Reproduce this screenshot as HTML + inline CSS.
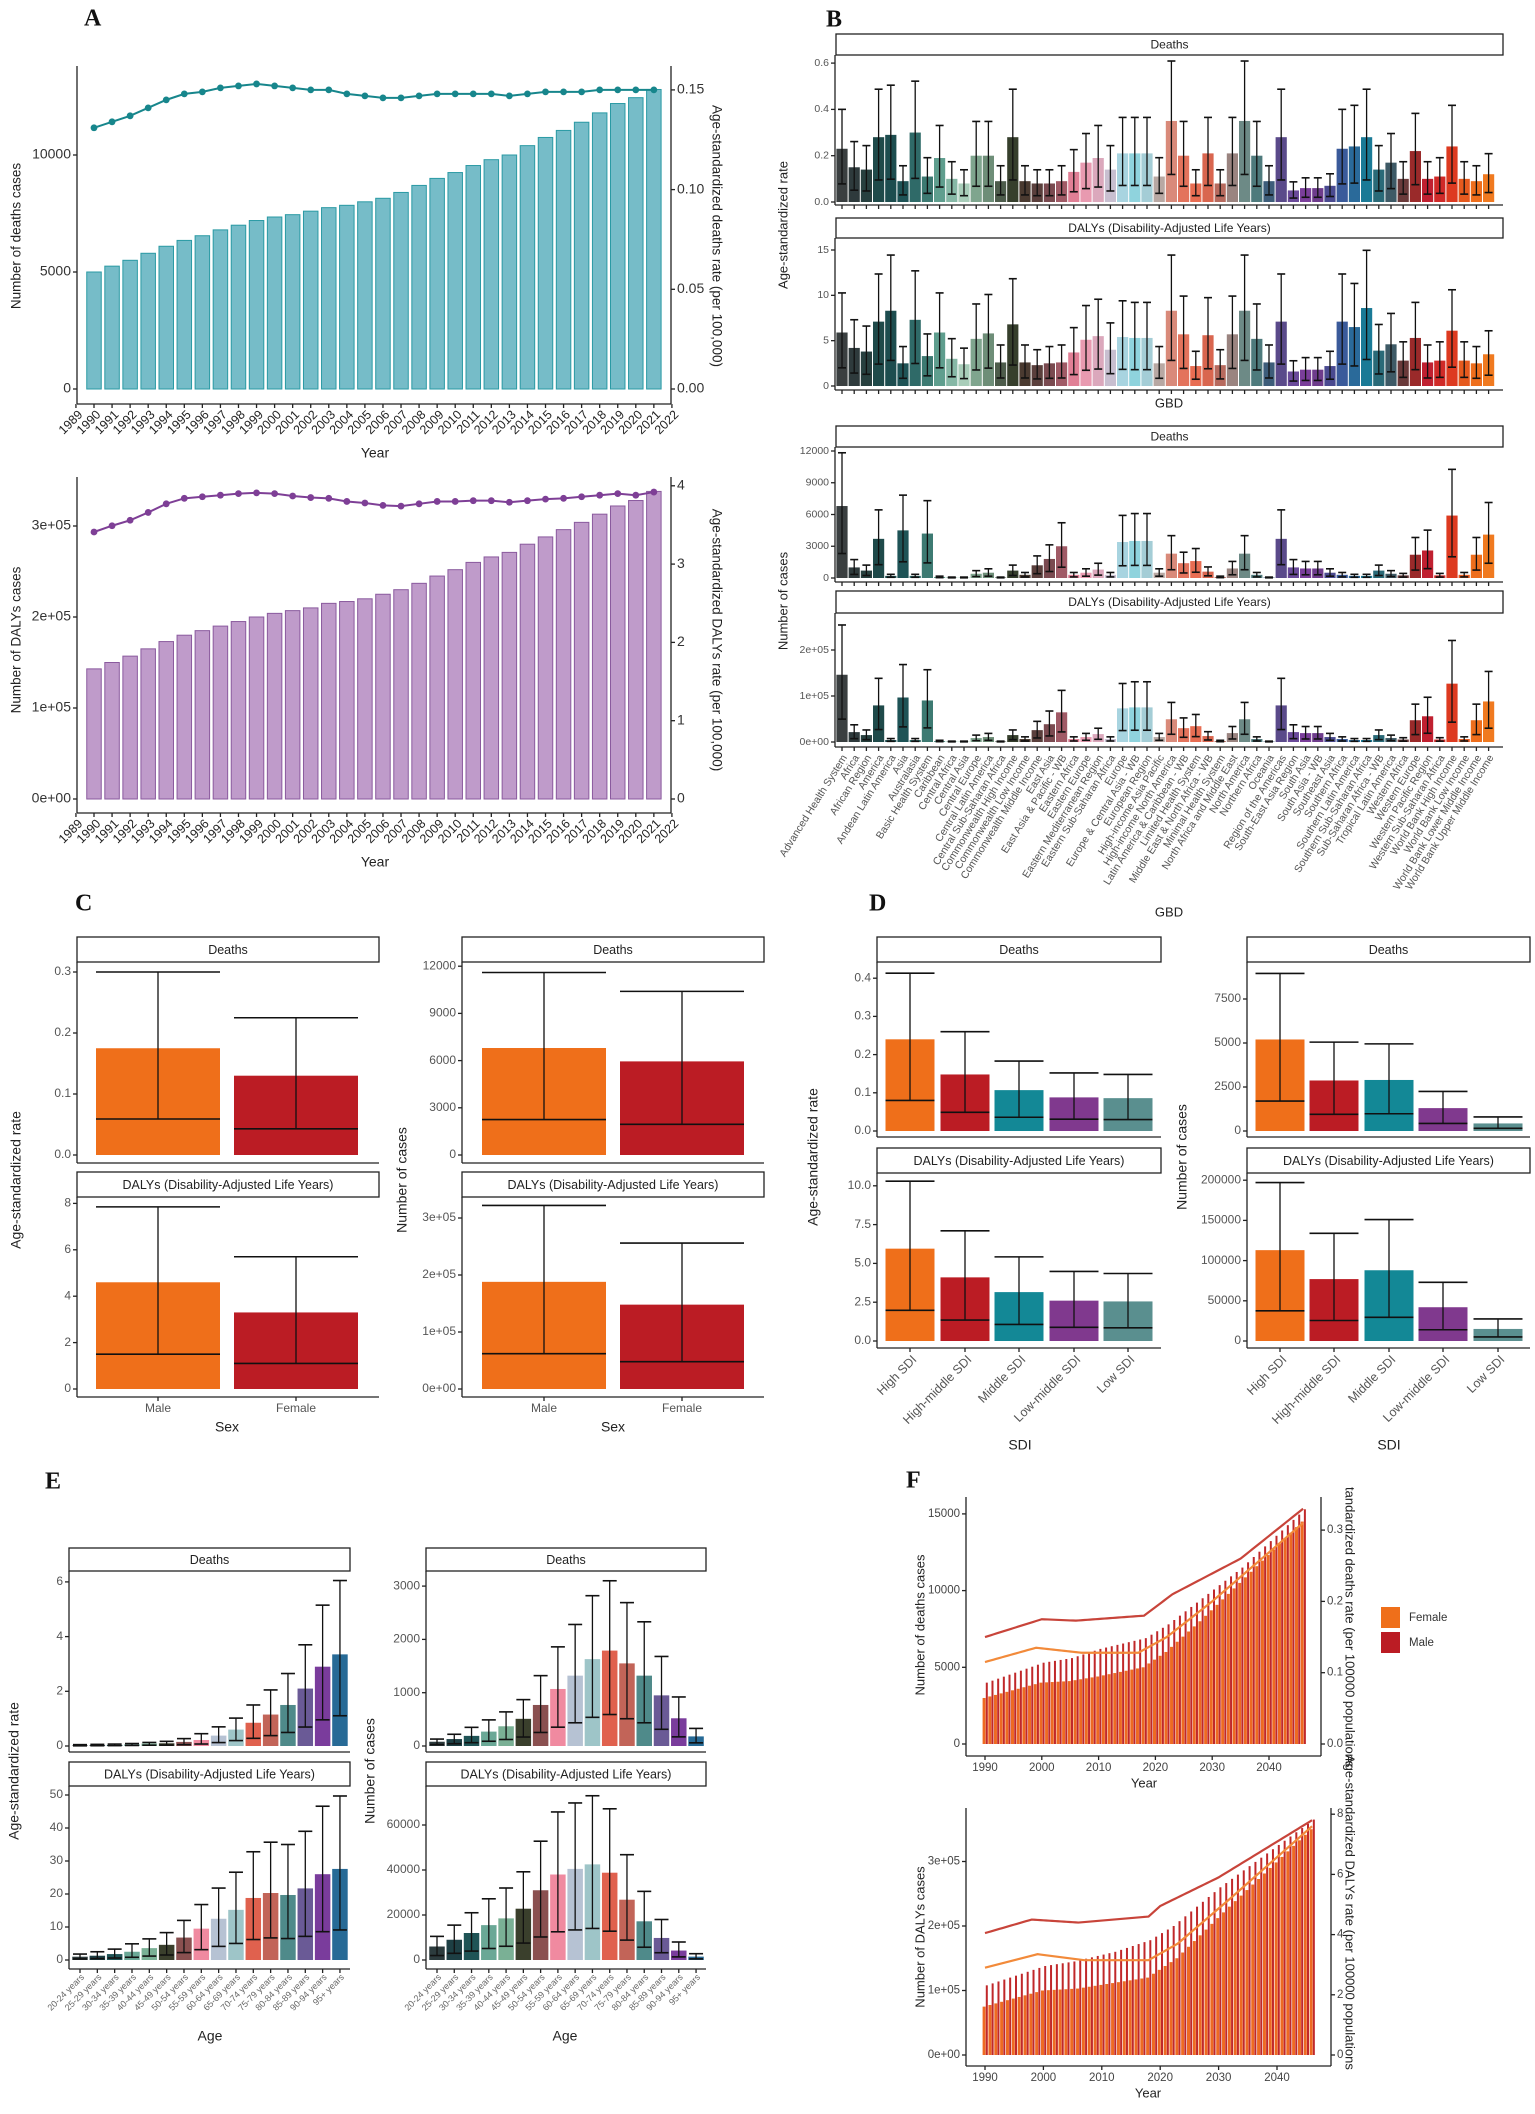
<!DOCTYPE html>
<html><head><meta charset="utf-8">
<style>
html,body{margin:0;padding:0;background:#fff;}
svg{display:block;font-family:"Liberation Sans",Arial,sans-serif;}
</style></head>
<body>
<svg id="s" xmlns="http://www.w3.org/2000/svg" width="1535" height="2114" viewBox="0 0 1535 2114">
<rect width="1535" height="2114" fill="#fff"/>
<g id="g"></g>
</svg>
<script>
var h='';
function esc(s){return s.replace(/&/g,'&amp;');}
function L(x1,y1,x2,y2,c,w){h+='<line x1="'+x1+'" y1="'+y1+'" x2="'+x2+'" y2="'+y2+'" stroke="'+(c||'#222')+'" stroke-width="'+(w||1.3)+'"/>';}
function R(x,y,w,hh,f,s,sw){h+='<rect x="'+x+'" y="'+y+'" width="'+w+'" height="'+hh+'" fill="'+f+'"'+(s?' stroke="'+s+'" stroke-width="'+(sw||1)+'"':'')+'/>';}
function T(x,y,t,o){o=o||{};h+='<text x="'+x+'" y="'+y+'" font-size="'+(o.fs||12)+'" fill="'+(o.c||'#222')+'" text-anchor="'+(o.a||'start')+'"'+(o.rot!==undefined?' transform="rotate('+o.rot+' '+x+' '+y+')"':'')+(o.ff?' font-family="'+o.ff+'"':'')+(o.fw?' font-weight="'+o.fw+'"':'')+' dominant-baseline="'+(o.db||'middle')+'">'+esc(t)+'</text>';}
function letter(x,y,t){T(x,y,t,{fs:24,ff:'Liberation Serif, serif',fw:'bold',c:'#111'});}
function yticks(ax,ticks,y0,k,fs,col,side){ticks.forEach(function(t){var y=y0-t[0]*k;if(side==='r'){L(ax,y,ax+4,y);T(ax+6,y,t[1],{fs:fs,c:col});}else{L(ax-4,y,ax,y);T(ax-6,y,t[1],{fs:fs,c:col,a:'end'});}});}
function strip(x1,x2,y1,y2,t,fs){R(x1,y1,x2-x1,y2-y1,'#fff','#222',1.3);T((x1+x2)/2,(y1+y2)/2+1,t,{fs:fs||12,c:'#222',a:'middle'});}
function eb(cx,hw,ylo,yhi){L(cx,ylo,cx,yhi,'#111',1.3);L(cx-hw,yhi,cx+hw,yhi,'#111',1.6);L(cx-hw,ylo,cx+hw,ylo,'#111',1.6);}

/* ---------- Panel A ---------- */
letter(84,20,'A');
function panelA(o){
 var x0=94,dx=18.06,bw=14.5;
 o.bars.forEach(function(v,i){var cx=x0+i*dx;var y=o.y0-v*o.k;R(cx-bw/2,y,bw,o.y0-y,o.fill,o.stroke,1);});
 var pts=o.line.map(function(v,i){return (x0+i*dx)+','+(o.ry0-v*o.rk);});
 h+='<polyline points="'+pts.join(' ')+'" fill="none" stroke="'+o.lc+'" stroke-width="2"/>';
 o.line.forEach(function(v,i){h+='<circle cx="'+(x0+i*dx)+'" cy="'+(o.ry0-v*o.rk)+'" r="3.4" fill="'+o.lc+'"/>';});
 L(77,o.top,77,o.bot);L(77,o.bot,671,o.bot);L(671,o.top,671,o.bot);
 yticks(77,o.lt,o.y0,o.k,14,'#333');
 yticks(671,o.rt,o.ry0,o.rk,14,'#333','r');
 for(var yr=1989;yr<=2022;yr++){var x=x0+(yr-1990)*dx;L(x,o.bot,x,o.bot+4);T(x+5,o.bot+9,''+yr,{fs:12.5,c:'#222',a:'end',rot:-45});}
 T(375,o.bot+50,'Year',{fs:14,a:'middle'});
 T(17,o.mid,o.lt_t,{fs:13.5,a:'middle',rot:-90});
 T(716,o.mid,o.rt_t,{fs:13.5,a:'middle',rot:90});
}
panelA({top:66,bot:404,y0:389,k:117/5000,mid:236,
 bars:[5000,5250,5500,5800,6100,6350,6550,6800,7000,7200,7350,7450,7600,7750,7850,8000,8150,8400,8700,9000,9250,9550,9800,10000,10400,10750,11050,11400,11800,12200,12450,12800],
 fill:'#76bcc8',stroke:'#2a9aa4',lc:'#17868c',ry0:389,rk:99.7/0.05,
 line:[0.131,0.134,0.137,0.141,0.145,0.148,0.149,0.151,0.152,0.153,0.152,0.151,0.150,0.150,0.148,0.147,0.146,0.146,0.147,0.148,0.148,0.148,0.148,0.147,0.148,0.149,0.149,0.149,0.150,0.150,0.150,0.150],
 lt:[[0,'0'],[5000,'5000'],[10000,'10000']],rt:[[0,'0.00'],[0.05,'0.05'],[0.10,'0.10'],[0.15,'0.15']],
 lt_t:'Number of deaths cases',rt_t:'Age-standardized deaths rate (per 100,000)'});
panelA({top:477,bot:813,y0:799,k:91/100000,mid:640,
 bars:[143,150,157,165,173,180,185,190,195,200,204,207,210,215,217,220,225,230,237,245,252,260,266,271,280,288,296,304,313,322,328,338].map(function(v){return v*1000;}),
 fill:'#bf9bca',stroke:'#8a5a9e',lc:'#7e3f96',ry0:799,rk:78.3,
 line:[3.41,3.49,3.56,3.66,3.77,3.84,3.86,3.88,3.90,3.91,3.90,3.87,3.85,3.84,3.80,3.78,3.75,3.74,3.77,3.80,3.80,3.81,3.81,3.79,3.81,3.83,3.84,3.86,3.88,3.90,3.88,3.92],
 lt:[[0,'0e+00'],[100000,'1e+05'],[200000,'2e+05'],[300000,'3e+05']],rt:[[0,'0'],[1,'1'],[2,'2'],[3,'3'],[4,'4']],
 lt_t:'Number of DALYs cases',rt_t:'Age-standardized DALYs rate (per 100,000)'});

/* ---------- Panel B ---------- */
letter(826,21,'B');
var BL=['Advanced Health System','Africa','African Region','America','Andean Latin America','Asia','Australasia','Basic Health System','Caribbean','Central Africa','Central Asia','Central Europe','Central Latin America','Central Sub-Saharan Africa','Commonwealth High Income','Commonwealth Low Income','Commonwealth Middle Income','East Asia','East Asia & Pacific - WB','Eastern Africa','Eastern Europe','Eastern Mediterranean Region','Eastern Sub-Saharan Africa','Europe','Europe & Central Asia - WB','European Region','High-income Asia Pacific','High-income North America','Latin America & Caribbean - WB','Limited Health System','Middle East & North Africa - WB','Minimal Health System','North Africa and Middle East','North America','Northern Africa','Oceania','Region of the Americas','South-East Asia Region','South Asia','South Asia - WB','Southeast Asia','Southern Africa','Southern Latin America','Southern Sub-Saharan Africa','Sub-Saharan Africa - WB','Tropical Latin America','Western Africa','Western Europe','Western Pacific Region','Western Sub-Saharan Africa','World Bank High Income','World Bank Low Income','World Bank Lower Middle Income','World Bank Upper Middle Income'];
var BC=['#3a3f40','#2e3a3c','#27403f','#1f4a4a','#1d4d4f','#1e5356','#2f6a68','#3d7a72','#5f9e8e','#86b8a6','#a8cdb9','#7fa58e','#6e8e78','#4d5c4b','#363f2c','#4a3a30','#5a3f3c','#7a4a50','#a05a66','#e07f95','#e89ab0','#dba8bc','#c8bfd0','#a8d4e0','#8fd3dd','#a4cdd6','#b8a8a3','#d98a7a','#e3735c','#e86d52','#d9664f','#b76a5e','#9a8480','#6d8a86','#4e7a7c','#3d5d7a','#5a4a8a','#6a4a9a','#7a3e9a','#6e3c8c','#4a4a90','#3a5a9a','#2a6a9a','#1a7a96','#2a6a78','#3e5a66','#6a3a3a','#9a2a2a','#c02030','#d02a28','#dd3a20','#e65a1e','#ee6e1c','#f07a20'];
var BD=[.23,.15,.14,.28,.29,.09,.30,.11,.19,.10,.08,.20,.20,.09,.28,.09,.08,.08,.09,.13,.17,.19,.14,.21,.21,.21,.11,.35,.20,.08,.21,.08,.21,.35,.20,.09,.28,.05,.06,.06,.07,.23,.24,.28,.14,.17,.10,.22,.10,.11,.24,.10,.09,.12];
var BY=[5.9,4.2,3.8,7.1,8.3,2.5,7.3,3.3,5.9,3.0,2.4,5.2,5.8,2.6,6.8,2.6,2.3,2.5,2.6,3.7,5.1,5.5,4.0,5.4,5.3,5.3,2.5,8.3,5.7,2.2,5.6,2.3,5.7,8.3,5.2,2.6,7.1,1.6,1.8,1.8,2.2,7.1,6.5,8.6,3.9,4.6,2.8,5.3,2.6,2.8,6.1,2.8,2.5,3.5];
var BN=[6800,1000,700,3700,200,4500,200,4200,100,50,50,400,500,50,700,300,1200,1800,3000,300,500,800,300,3400,3500,3500,500,2300,1400,1600,600,100,900,2300,300,50,3700,1000,900,900,500,300,200,200,700,400,250,2200,2600,250,5900,300,2200,4100];
var BDa=BN.map(function(v){return v*21.5;});
function facetB(sy1,sy2,lab,y0,k,ticks,data,axb,xt){
 strip(836,1503,sy1,sy2,lab,12);
 data.forEach(function(v,i){var cx=842+i*12.2;var y=y0-v*k;R(cx-5.6,y,11.2,y0-y,BC[i]);eb(cx,4,y0-v*0.34*k,y0-v*1.74*k);});
 L(835,sy2,835,axb);L(835,axb,1503,axb);
 if(xt){for(var i=0;i<54;i++){var cx=842+i*12.2;L(cx,axb,cx,axb+4);}}
 yticks(835,ticks,y0,k,10.5,'#555');
}
facetB(34,55,'Deaths',202,46.3/0.2,[[0,'0.0'],[0.2,'0.2'],[0.4,'0.4'],[0.6,'0.6']],BD,205,true);
facetB(218,238,'DALYs (Disability-Adjusted Life Years)',386,136/15,[[0,'0'],[5,'5'],[10,'10'],[15,'15']],BY,390,true);
T(1169,404,'GBD',{fs:13,a:'middle'});
T(784,225,'Age-standardized rate',{fs:13,a:'middle',rot:-90});
facetB(426,447,'Deaths',578,127/12000,[[0,'0'],[3000,'3000'],[6000,'6000'],[9000,'9000'],[12000,'12000']],BN,582,true);
facetB(591,613,'DALYs (Disability-Adjusted Life Years)',742,46/100000,[[0,'0e+00'],[100000,'1e+05'],[200000,'2e+05']],BDa,747,true);
T(784,601,'Number of cases',{fs:13,a:'middle',rot:-90});
BL.forEach(function(t,i){var cx=842+i*12.2;T(cx+3,756,t,{fs:10.5,c:'#555',a:'end',rot:-58});});
T(1169,913,'GBD',{fs:13,a:'middle'});

/* ---------- generic facet for C/D/E ---------- */
function facet(o){
 strip(o.x1,o.x2,o.sy1,o.sy2,o.lab,o.sfs||12.5);
 L(o.x1,o.sy2,o.x1,o.axb);L(o.x1,o.axb,o.x2,o.axb);
 o.data.forEach(function(d,i){var cx=o.cx[i];var y=o.y0-d[0]*o.k;R(cx-o.bw/2,y,o.bw,o.y0-y,d[3]);eb(cx,o.cap,o.y0-d[1]*o.k,o.y0-d[2]*o.k);if(o.xt)L(cx,o.axb,cx,o.axb+4);});
 yticks(o.x1,o.ticks,o.y0,o.k,o.tfs||12,'#555');
}
/* ---------- Panel C ---------- */
letter(75,905,'C');
var OR='#ef6f1a',RD='#bb1c24';
facet({x1:77,x2:379,sy1:937,sy2:962,lab:'Deaths',y0:1155,k:610,cx:[158,296],bw:124,cap:62,axb:1163,
 ticks:[[0,'0.0'],[0.1,'0.1'],[0.2,'0.2'],[0.3,'0.3']],data:[[0.175,0.059,0.30,OR],[0.13,0.043,0.225,RD]]});
facet({x1:77,x2:379,sy1:1172,sy2:1197,lab:'DALYs (Disability-Adjusted Life Years)',y0:1389,k:23.2,cx:[158,296],bw:124,cap:62,axb:1397,xt:true,
 ticks:[[0,'0'],[2,'2'],[4,'4'],[6,'6'],[8,'8']],data:[[4.6,1.5,7.85,OR],[3.3,1.1,5.7,RD]]});
facet({x1:462,x2:764,sy1:937,sy2:962,lab:'Deaths',y0:1155,k:47.2/3000,cx:[544,682],bw:124,cap:62,axb:1163,
 ticks:[[0,'0'],[3000,'3000'],[6000,'6000'],[9000,'9000'],[12000,'12000']],data:[[6800,2250,11600,OR],[5950,1950,10400,RD]]});
facet({x1:462,x2:764,sy1:1172,sy2:1197,lab:'DALYs (Disability-Adjusted Life Years)',y0:1389,k:57/100000,cx:[544,682],bw:124,cap:62,axb:1397,xt:true,
 ticks:[[0,'0e+00'],[100000,'1e+05'],[200000,'2e+05'],[300000,'3e+05']],data:[[188000,62000,322000,OR],[148000,48000,256000,RD]]});
[[158,'Male'],[296,'Female'],[544,'Male'],[682,'Female']].forEach(function(p){T(p[0],1409,p[1],{fs:12,c:'#555',a:'middle'});});
T(227,1428,'Sex',{fs:14,a:'middle'});T(613,1428,'Sex',{fs:14,a:'middle'});
T(17,1180,'Age-standardized rate',{fs:14,a:'middle',rot:-90});
T(403,1180,'Number of cases',{fs:14,a:'middle',rot:-90});

/* ---------- Panel D ---------- */
letter(869,905,'D');
var TL='#138896',PU='#80398e',GT='#5a8f8f';
var DC=[OR,RD,TL,PU,GT];
function dd(a){return a.map(function(r,i){return [r[0],r[1],r[2],DC[i]];});}
var dl=[910,965,1019,1074,1128],dr=[1280,1334,1389,1443,1498];
facet({x1:877,x2:1161,sy1:937,sy2:962,lab:'Deaths',y0:1131,k:382,cx:dl,bw:49,cap:24.5,axb:1137,
 ticks:[[0,'0.0'],[0.1,'0.1'],[0.2,'0.2'],[0.3,'0.3'],[0.4,'0.4']],data:dd([[0.24,0.08,0.413],[0.148,0.049,0.26],[0.107,0.036,0.183],[0.088,0.031,0.152],[0.086,0.03,0.148]])});
facet({x1:877,x2:1161,sy1:1148,sy2:1173,lab:'DALYs (Disability-Adjusted Life Years)',y0:1341,k:38.8/2.5,cx:dl,bw:49,cap:24.5,axb:1348,xt:true,
 ticks:[[0,'0.0'],[2.5,'2.5'],[5,'5.0'],[7.5,'7.5'],[10,'10.0']],data:dd([[5.95,1.98,10.3],[4.1,1.35,7.1],[3.15,1.07,5.42],[2.6,0.88,4.48],[2.55,0.85,4.35]])});
facet({x1:1247,x2:1530,sy1:937,sy2:962,lab:'Deaths',y0:1131,k:44/2500,cx:dr,bw:49,cap:24.5,axb:1137,
 ticks:[[0,'0'],[2500,'2500'],[5000,'5000'],[7500,'7500']],data:dd([[5200,1700,8950],[2870,950,5050],[2900,980,4950],[1300,430,2250],[430,150,800]])});
facet({x1:1247,x2:1530,sy1:1148,sy2:1173,lab:'DALYs (Disability-Adjusted Life Years)',y0:1341,k:40.2/50000,cx:dr,bw:49,cap:24.5,axb:1348,xt:true,
 ticks:[[0,'0'],[50000,'50000'],[100000,'100000'],[150000,'150000'],[200000,'200000']],data:dd([[113000,37500,197000],[77000,25500,134000],[88000,29500,151000],[42000,14000,73000],[15000,5000,27500]])});
var SD=['High SDI','High-middle SDI','Middle SDI','Low-middle SDI','Low SDI'];
SD.forEach(function(t,i){T(dl[i]+5,1358,t,{fs:12.5,c:'#555',a:'end',rot:-45});T(dr[i]+5,1358,t,{fs:12.5,c:'#555',a:'end',rot:-45});});
T(1020,1446,'SDI',{fs:14,a:'middle'});T(1389,1446,'SDI',{fs:14,a:'middle'});
T(814,1157,'Age-standardized rate',{fs:14,a:'middle',rot:-90});
T(1183,1157,'Number of cases',{fs:14,a:'middle',rot:-90});

/* ---------- Panel E ---------- */
letter(45,1483,'E');
var EC=['#2c3b3d','#1d3f44','#1f5456','#6aa896','#7ab095','#3a3f2c','#8a5050','#f08aa0','#b6c2d3','#9ec5c8','#e0614e','#c26458','#4f8a8a','#6a5a96','#7a3c9c','#276a96'];
var AG=['20-24 years','25-29 years','30-34 years','35-39 years','40-44 years','45-49 years','50-54 years','55-59 years','60-64 years','65-69 years','70-74 years','75-79 years','80-84 years','85-89 years','90-94 years','95+ years'];
function ed(m,up,lf){return m.map(function(v,i){return [v,v*lf,up[i],EC[i]];});}
var el=[],er=[];for(var i=0;i<16;i++){el.push(80+i*17.33);er.push(437+i*17.27);}
facet({x1:69,x2:350,sy1:1548,sy2:1571,lab:'Deaths',y0:1746,k:27.35,cx:el,bw:15.5,cap:7,axb:1752,
 ticks:[[0,'0'],[2,'2'],[4,'4'],[6,'6']],data:ed([.02,.03,.04,.06,.09,.1,.15,.22,.38,.6,.85,1.15,1.5,2.1,2.9,3.35],[.05,.06,.07,.09,.13,.17,.27,.45,.7,1.02,1.5,2.05,2.65,3.7,5.15,6.05],0.33)});
facet({x1:69,x2:350,sy1:1762,sy2:1786,lab:'DALYs (Disability-Adjusted Life Years)',y0:1960,k:3.3,cx:el,bw:15.5,cap:7,axb:1969,xt:true,
 ticks:[[0,'0'],[10,'10'],[20,'20'],[30,'30'],[40,'40'],[50,'50']],data:ed([1,1.3,1.8,2.5,3.6,4.6,6.8,9.5,12.5,15.2,18.8,20.3,19.7,21.7,26,27.6],[1.8,2.5,3.3,4.9,6.4,8.3,12,16.8,21.8,26.6,32.8,35.7,35,39,46.6,49.7],0.33)});
facet({x1:426,x2:706,sy1:1548,sy2:1571,lab:'Deaths',y0:1746,k:0.0533,cx:er,bw:15.5,cap:7,axb:1752,
 ticks:[[0,'0'],[1000,'1000'],[2000,'2000'],[3000,'3000']],data:ed([80,130,190,270,370,510,770,1070,1320,1630,1790,1550,1320,950,520,180],[130,220,350,490,640,870,1320,1860,2280,2820,3100,2690,2330,1680,920,330],0.33)});
facet({x1:426,x2:706,sy1:1762,sy2:1786,lab:'DALYs (Disability-Adjusted Life Years)',y0:1960,k:45/20000,cx:er,bw:15.5,cap:7,axb:1969,xt:true,
 ticks:[[0,'0'],[20000,'20000'],[40000,'40000'],[60000,'60000']],data:ed([6000,9000,12000,15500,18500,22800,31000,38000,40500,42500,38800,26800,17200,9800,4200,1500],[10500,15500,21000,27200,32000,39200,52800,65800,69800,73000,67200,46800,30500,18000,8000,2800],0.33)});
AG.forEach(function(t,i){T(el[i]+3,1976,t,{fs:9,c:'#666',a:'end',rot:-45});T(er[i]+3,1976,t,{fs:9,c:'#666',a:'end',rot:-45});});
T(210,2037,'Age',{fs:14,a:'middle'});T(565,2037,'Age',{fs:14,a:'middle'});
T(15,1771,'Age-standardized rate',{fs:14,a:'middle',rot:-90});
T(371,1771,'Number of cases',{fs:14,a:'middle',rot:-90});

/* ---------- Panel F ---------- */
letter(906,1482,'F');
function interp(kn,yr){for(var i=0;i<kn.length-1;i++){if(yr>=kn[i][0]&&yr<=kn[i+1][0]){var t=(yr-kn[i][0])/(kn[i+1][0]-kn[i][0]);return kn[i][1]+t*(kn[i+1][1]-kn[i][1]);}}return kn[kn.length-1][1];}
function panelF(o){
 var X=function(yr){return 985+(yr-1990)*o.px;};
 for(var yr=1990;yr<=2046;yr++){var x=X(yr);
  var f=interp(o.fb,yr),m=interp(o.mb,yr);
  var yf=o.y0-f*o.k,ym=o.y0-m*o.k;
  R(x-2.4,yf,3,o.y0-yf,'#ee6a22');
  R(x+0.8,ym,2,o.y0-ym,'#c0282a');}
 ['fl','ml'].forEach(function(key,j){var pts=[];for(var yr=1990;yr<=2046;yr+=0.5){pts.push(X(yr)+','+(o.ry0-interp(o[key],yr)*o.rk));}
  h+='<polyline points="'+pts.join(' ')+'" fill="none" stroke="'+(j?'#c8443a':'#f28a3a')+'" stroke-width="2.2"/>';});
 L(966,o.top,966,o.bot);L(966,o.bot,o.rx,o.bot);L(o.rx,o.top,o.rx,o.bot);
 yticks(966,o.lt,o.y0,o.k,11.5,'#444');
 yticks(o.rx,o.rt,o.ry0,o.rk,11.5,'#444','r');
 [1990,2000,2010,2020,2030,2040].forEach(function(yr){var x=X(yr);L(x,o.bot,x,o.bot+4);T(x,o.bot+12,''+yr,{fs:11.5,c:'#444',a:'middle'});});
 T(o.yx,o.bot+28,'Year',{fs:13,a:'middle'});
 T(921,o.mid,o.lt_t,{fs:13,a:'middle',rot:-90});
}
panelF({px:5.68,top:1497,bot:1756,rx:1321,y0:1744,k:76.7/5000,ry0:1744,rk:713,mid:1625,yx:1144,
 fb:[[1990,3000],[2000,4000],[2005,4100],[2010,4400],[2018,5000],[2022,6000],[2028,8000],[2035,10500],[2046,14500]],
 mb:[[1990,4000],[2000,5300],[2005,5600],[2010,6200],[2018,6900],[2022,7800],[2028,9500],[2035,11500],[2046,15300]],
 fl:[[1990,0.115],[1999,0.135],[2007,0.128],[2017,0.128],[2022,0.15],[2030,0.2],[2046,0.31]],
 ml:[[1990,0.15],[2000,0.175],[2006,0.173],[2018,0.18],[2023,0.21],[2035,0.26],[2046,0.33]],
 lt:[[0,'0'],[5000,'5000'],[10000,'10000'],[15000,'15000']],rt:[[0,'0.0'],[0.1,'0.1'],[0.2,'0.2'],[0.3,'0.3']],
 lt_t:'Number of deaths cases'});
panelF({px:5.84,top:1808,bot:2066,rx:1331,y0:2055,k:64.5/100000,ry0:2055,rk:30.1,mid:1937,yx:1148,
 fb:[[1990,75000],[2000,100000],[2006,103000],[2018,120000],[2023,150000],[2032,230000],[2046,350000]],
 mb:[[1990,108000],[2000,138000],[2005,145000],[2012,160000],[2018,178000],[2022,200000],[2030,260000],[2046,365000]],
 fl:[[1990,2.9],[1999,3.35],[2007,3.15],[2018,3.15],[2023,3.7],[2032,5.2],[2046,7.6]],
 ml:[[1990,4.05],[1998,4.5],[2006,4.4],[2018,4.6],[2020,4.95],[2030,5.9],[2046,7.8]],
 lt:[[0,'0e+00'],[100000,'1e+05'],[200000,'2e+05'],[300000,'3e+05']],rt:[[0,'0'],[2,'2'],[4,'4'],[6,'6'],[8,'8']],
 lt_t:'Number of DALYs cases'});
T(1349,1487,'tandardized deaths rate (per 100000 populations',{fs:13,rot:90,db:'middle'});
T(1349,1755,'Age-standardized DALYs rate (per 100000 populations',{fs:13,rot:90,db:'middle'});
R(1381,1607,19,21,'#ef6f1a');R(1381,1632,19,21,'#bb1c24');
T(1409,1618,'Female',{fs:11.5,c:'#333'});T(1409,1643,'Male',{fs:11.5,c:'#333'});

document.getElementById('g').innerHTML=h;
</script>
</body></html>
